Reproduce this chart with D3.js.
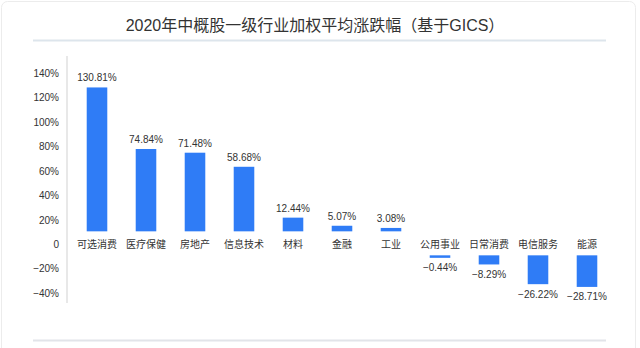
<!DOCTYPE html>
<html>
<head>
<meta charset="utf-8">
<script src="https://cdn.jsdelivr.net/npm/d3@7"></script>
<style>
  body { margin: 0; background: #fff; }
  svg text { font-family: "Liberation Sans", "Noto Sans CJK SC", sans-serif; fill: #333; }
</style>
</head>
<body>
<svg id="chart" width="640" height="348"></svg>
<script>
const title = "2020年中概股一级行业加权平均涨跌幅（基于GICS）";
const categories = ["可选消费", "医疗保健", "房地产", "信息技术", "材料", "金融", "工业", "公用事业", "日常消费", "电信服务", "能源"];
const values = [130.81, 74.84, 71.48, 58.68, 12.44, 5.07, 3.08, -0.44, -8.29, -26.22, -28.71];
const yTicks = [-40, -20, 0, 20, 40, 60, 80, 100, 120, 140];

const svg = d3.select("#chart");

// card outline
svg.append("rect")
  .attr("x", 1.5).attr("y", 1.5)
  .attr("width", 634).attr("height", 360)
  .attr("rx", 6)
  .attr("fill", "#fff")
  .attr("stroke", "#ececec");

svg.append("text")
  .attr("x", 315)
  .attr("y", 31)
  .attr("text-anchor", "middle")
  .style("font-size", "16px")
  .text(title);

svg.append("line")
  .attr("x1", 33).attr("x2", 606)
  .attr("y1", 40.5).attr("y2", 40.5)
  .attr("stroke", "#dde5ec")
  .attr("stroke-width", 2);

svg.append("line")
  .attr("x1", 33).attr("x2", 606)
  .attr("y1", 340.5).attr("y2", 340.5)
  .attr("stroke", "#e2e4e9")
  .attr("stroke-width", 2);

const y = d3.scaleLinear().domain([-40, 140]).range([293.2, 73.3]);
const x = d3.scaleBand().domain(categories).range([72.5, 611.5])
  .paddingInner(0.58).paddingOuter(0.29);
// bar length scale (bars are drawn off the label row, not from the axis zero)
const len = d3.scaleLinear().domain([0, 140]).range([0, 154]);
const upBase = y(0) - 13;
const downBase = y(0) + 11;

// y axis
svg.append("line")
  .attr("x1", 67).attr("x2", 67)
  .attr("y1", 56).attr("y2", 303)
  .attr("stroke", "#e8e8e8")
  .attr("stroke-width", 2);

const yAxis = d3.axisLeft(y)
  .tickValues(yTicks)
  .tickSize(0)
  .tickPadding(0)
  .tickFormat(d => d === 0 ? "0" : d3.format("d")(d) + "%");

const ga = svg.append("g")
  .attr("transform", "translate(59,0)")
  .call(yAxis);
ga.select(".domain").remove();
ga.selectAll("text")
  .style("font-size", "10px")
  .style("font-family", null)
  .attr("fill", "#333");

const fmt = d3.format(".2f");
const data = categories.map((c, i) => ({cat: c, v: values[i]}));

const g = svg.append("g");

g.selectAll("rect.bar")
  .data(data)
  .join("rect")
  .attr("class", "bar")
  .attr("x", d => x(d.cat))
  .attr("width", x.bandwidth())
  .attr("y", d => d.v >= 0 ? upBase - len(d.v) : downBase)
  .attr("height", d => Math.max(2.5, len(Math.abs(d.v))))
  .attr("fill", "#2f7cf6");

g.selectAll("text.val")
  .data(data)
  .join("text")
  .attr("class", "val")
  .attr("x", d => x(d.cat) + x.bandwidth() / 2)
  .attr("y", d => d.v >= 0
    ? upBase - len(d.v) - 6
    : downBase + Math.max(2.5, len(Math.abs(d.v))) + 13.5)
  .attr("text-anchor", "middle")
  .style("font-size", "10px")
  .text(d => fmt(d.v) + "%");

g.selectAll("text.cat")
  .data(data)
  .join("text")
  .attr("class", "cat")
  .attr("x", d => x(d.cat) + x.bandwidth() / 2)
  .attr("y", y(0))
  .attr("dy", "0.35em")
  .attr("text-anchor", "middle")
  .style("font-size", "10px")
  .text(d => d.cat);
</script>
</body>
</html>
